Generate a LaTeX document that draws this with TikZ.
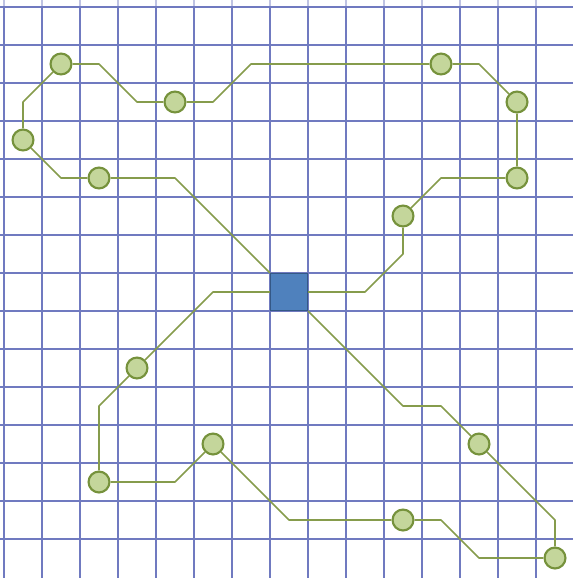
\documentclass[tikz,border=0pt]{standalone}
\usepackage{tikz}
\usetikzlibrary{calc}
\usepackage{xcolor}
\definecolor{gridblue}{RGB}{112,122,192}
\definecolor{wireolive}{RGB}{134,156,76}
\definecolor{dotfill}{RGB}{196,214,155}
\definecolor{dotline}{RGB}{118,146,60}
\definecolor{hubfill}{RGB}{79,129,189}
\definecolor{hubline}{RGB}{52,88,134}

\begin{document}
\begin{tikzpicture}[
    g/.style={line width=.9pt,gridblue},
    e/.style={line width=1.2pt,wireolive,line join=round},
    v/.style={circle,draw=dotline,fill=dotfill,line width=1.6pt,minimum size=5.5mm,inner sep=0pt},
    sq/.style={rectangle,draw=hubline,fill=hubfill,line width=1pt,minimum size=9.7mm,inner sep=0pt}
  ]
    \useasboundingbox (-.105,.184) rectangle (14.974,-15.026);
    \foreach \x in {0,...,14} {\draw[g] (\x,0)--(\x,-15.026); \draw[g,gridblue!45] (\x,.184)--(\x,0);}
    \foreach \y in {0,...,14} {\draw[g] (-.105,-\y)--(14.974,-\y);}
    \node[sq] (hub) at (7.5,-7.5) {};
    \foreach \n/\p in {n1/{1.5,-1.5},n2/{4.5,-2.5},n3/{.5,-3.5},n4/{2.5,-4.5},n5/{11.5,-1.5},n6/{13.5,-2.5},n7/{13.5,-4.5},
      n8/{10.5,-5.5},n9/{3.5,-9.5},n10/{2.5,-12.5},n11/{5.5,-11.5},n12/{10.5,-13.5},n13/{12.5,-11.5},n14/{14.5,-14.5}} {\node[v] (\n) at (\p) {};}
    \foreach \c/\p in {a1/{4.5,-4.5},a2/{1.5,-4.5},a3/{.5,-2.5},a4/{2.5,-1.5},a5/{3.5,-2.5},a6/{5.5,-2.5},a7/{6.5,-1.5},
      a8/{12.5,-1.5},a9/{11.5,-4.5},a10/{10.5,-6.5},a11/{9.5,-7.5}} {\coordinate (\c) at (\p);}
    \foreach \c/\p in {b1/{5.5,-7.5},b2/{2.5,-10.5},b3/{4.5,-12.5},b4/{7.5,-13.5},b5/{11.5,-13.5},b6/{12.5,-14.5},
      b7/{14.5,-13.5},b8/{11.5,-10.5},b9/{10.5,-10.5}} {\coordinate (\c) at (\p);}
    \draw[e] (hub)--(a1)--(n4)--(a2)--(n3)--(a3)--(n1)--(a4)--(a5)--(n2)--(a6)--(a7)--(n5)--(a8)--(n6)--(n7)--(a9)--(n8)--(a10)--(a11)--(hub);
    \draw[e] (hub)--(b1)--(n9)--(b2)--(n10)--(b3)--(n11)--(b4)--(n12)--(b5)--(b6)--(n14)--(b7)--(n13)--(b8)--(b9)--(hub);
  \end{tikzpicture}
\end{document}
